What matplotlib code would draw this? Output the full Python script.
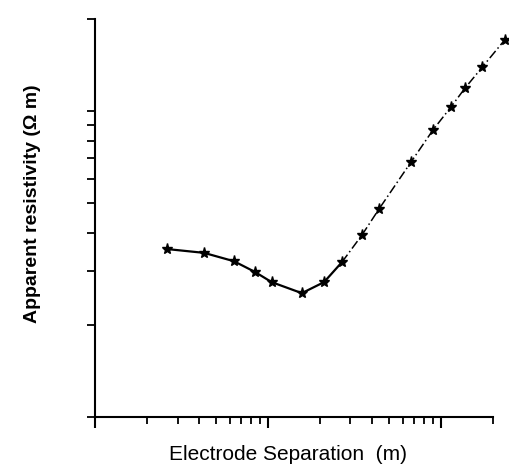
import numpy as np
import matplotlib
matplotlib.use("Agg")
from matplotlib import pyplot as plt
from matplotlib.ticker import LogLocator, NullFormatter

# electrode separation (m) and apparent resistivity
separation = [2.61, 4.27, 6.36, 8.41, 10.5, 15.7, 21.1, 26.8,
              34.9, 43.8, 67.1, 89.9, 114, 138, 173, 234]
resistivity = [3.54, 3.44, 3.23, 2.98, 2.76, 2.54, 2.76, 3.21,
               3.93, 4.78, 6.81, 8.67, 10.3, 11.9, 13.9, 17.1]
n_solid = 8  # first points joined by a solid line, the rest dash-dot

x_label = "Electrode Separation  (m)"
y_label = "Apparent resistivity (\u03a9 m)"

plt.rcParams['font.family'] = ['Liberation Sans', 'DejaVu Sans']

fig = plt.figure(figsize=(5.09, 4.73), dpi=100)
ax = fig.add_axes([95 / 509, 1 - 417 / 473, 398 / 509, 398 / 473])

x = np.array(separation)
y = np.array(resistivity)

ax.plot(x[:n_solid], y[:n_solid], color='black', linewidth=1.6, clip_on=False)
ax.plot(x[n_solid - 1:], y[n_solid - 1:], color='black', linewidth=1.1,
        linestyle=(0, (6, 2, 1, 2)), clip_on=False)
ax.plot(x, y, linestyle='none', marker='*', markersize=8, color='black', clip_on=False)

ax.set_xscale('log')
ax.set_yscale('log')
ax.set_xlim(1, 200)
ax.set_ylim(1, 20)

ax.spines['top'].set_visible(False)
ax.spines['right'].set_visible(False)
ax.spines['left'].set_linewidth(1.5)
ax.spines['bottom'].set_linewidth(1.5)

ax.xaxis.set_major_locator(LogLocator(base=10, numticks=10))
ax.xaxis.set_minor_locator(LogLocator(base=10, subs=np.arange(2, 10), numticks=20))
ax.yaxis.set_major_locator(LogLocator(base=10, numticks=10))
ax.yaxis.set_minor_locator(LogLocator(base=10, subs=np.arange(2, 10), numticks=20))
for axis in (ax.xaxis, ax.yaxis):
    axis.set_major_formatter(NullFormatter())
    axis.set_minor_formatter(NullFormatter())

ax.tick_params(axis='x', which='major', direction='out', length=8, width=1.5)
ax.tick_params(axis='x', which='minor', direction='out', length=5, width=1.3)
ax.tick_params(axis='y', which='both', direction='out', length=6, width=1.3)

ax.set_xlabel(x_label, fontsize=15)
ax.set_ylabel(y_label, fontsize=14, fontweight='bold')
ax.xaxis.set_label_coords(0.485, -0.07)
ax.yaxis.set_label_coords(-0.135, 0.535)

fig.savefig("out.png", dpi=100)
